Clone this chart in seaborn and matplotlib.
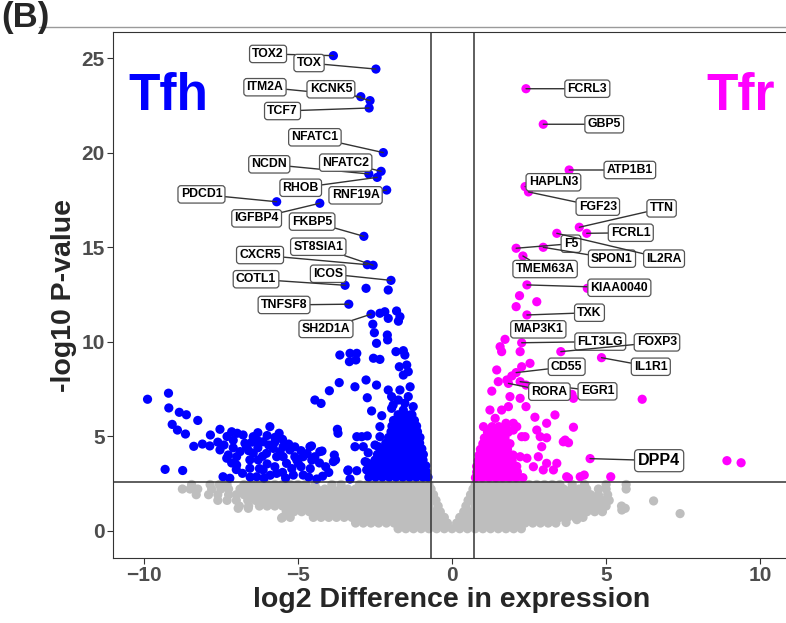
import numpy as np
import pandas as pd
import matplotlib
matplotlib.use("Agg")
import matplotlib.pyplot as plt
import seaborn as sns
from matplotlib.lines import Line2D

# ------------------------------------------------------------------
# values
# ------------------------------------------------------------------
# not-significant genes (gray), stored row by row: one -log10 p level, many log2 FC
gray_levels = [0.12, 0.42, 0.72, 1.02, 1.32, 1.62, 1.92, 2.22, 2.46]
gray_rows = [
    [-1.75, -1.5, -1.25, -1.0, -0.75, -0.5, -0.25, 0.0, 0.25, 0.5, 0.75, 1.0, 1.25, 1.5, 1.75, 2.0, 2.25],
    [-3.13, -2.88, -2.63, -2.38, -2.13, -1.88, -1.63, -1.38, -1.13, -0.88, -0.63, -0.38, -0.15, 0.15, 0.37,
     0.62, 0.87, 1.12, 1.37, 1.62, 1.87, 2.12, 2.37, 2.62, 2.87, 3.12, 3.37],
    [-5.5, -5.25, -4.5, -4.25, -4.0, -3.75, -3.5, -3.25, -3.0, -2.75, -2.5, -2.25, -2.0, -1.75, -1.5, -1.25,
     -1.0, -0.75, -0.5, -0.25, 0.25, 0.5, 0.75, 1.0, 1.25, 1.5, 1.75, 2.0, 2.25, 2.5, 2.75, 3.0, 3.25, 3.5,
     3.75, 4.0, 4.25],
    [-5.38, -5.13, -4.88, -4.63, -4.38, -4.13, -3.88, -3.63, -3.38, -3.13, -2.88, -2.63, -2.38, -2.13, -1.88,
     -1.63, -1.38, -1.13, -0.88, -0.63, -0.38, 0.38, 0.63, 0.88, 1.13, 1.38, 1.63, 1.88, 2.13, 2.38, 2.63,
     2.88, 3.13, 3.38, 3.63, 3.88, 4.13, 4.38, 4.63, 4.88],
    [-6.9, -6.6, -6.25, -6.0, -5.75, -5.5, -5.25, -5.0, -4.75, -4.5, -4.25, -4.0, -3.75, -3.5, -3.25, -3.0,
     -2.75, -2.5, -2.25, -2.0, -1.75, -1.5, -1.25, -1.0, -0.75, -0.45, 0.45, 0.75, 1.0, 1.25, 1.5, 1.75, 2.0,
     2.25, 2.5, 2.75, 3.0, 3.25, 3.5, 3.75, 4.0, 4.25, 4.5, 4.75, 5.0, 5.5],
    [-7.6, -7.3, -7.0, -6.63, -6.38, -6.13, -5.88, -5.63, -5.38, -5.13, -4.88, -4.63, -4.38, -4.13, -3.88,
     -3.63, -3.38, -3.13, -2.88, -2.63, -2.38, -2.13, -1.88, -1.63, -1.38, -1.13, -0.88, -0.62, -0.52, 0.52,
     0.62, 0.87, 1.12, 1.37, 1.62, 1.87, 2.12, 2.37, 2.62, 2.87, 3.12, 3.37, 3.62, 3.87, 4.12, 4.37, 4.62,
     4.87, 5.1],
    [-8.3, -7.9, -7.6, -7.25, -7.0, -6.75, -6.5, -6.25, -6.0, -5.75, -5.5, -5.25, -5.0, -4.75, -4.5, -4.25,
     -4.0, -3.75, -3.5, -3.25, -3.0, -2.75, -2.5, -2.25, -2.0, -1.75, -1.5, -1.25, -1.0, -0.75, -0.6, 0.6,
     0.75, 1.0, 1.25, 1.5, 1.75, 2.0, 2.25, 2.5, 2.75, 3.0, 3.25, 3.5, 3.75, 4.0, 4.25, 4.5, 4.75, 5.05],
    [-8.75, -8.5, -8.25, -7.8, -7.5, -7.25, -6.88, -6.63, -6.38, -6.13, -5.88, -5.63, -5.38, -5.13, -4.88,
     -4.63, -4.38, -4.13, -3.88, -3.63, -3.38, -3.13, -2.88, -2.63, -2.38, -2.13, -1.88, -1.63, -1.38, -1.13,
     -0.88, -0.68, 0.68, 0.87, 1.12, 1.37, 1.62, 1.87, 2.12, 2.37, 2.62, 2.87, 3.12, 3.37, 3.62, 3.87, 4.12,
     4.37, 4.75, 5.0, 5.65],
    [-8.45, -7.85, -7.55, -7.3, -6.75, -6.5, -6.25, -6.0, -5.75, -5.5, -5.25, -5.0, -4.75, -4.45, -3.9, -3.6,
     -3.0, -2.75, -2.5, -2.25, -2.0, -1.75, -1.5, -1.25, -1.0, -0.75, 0.75, 1.0, 1.25, 1.5, 1.75, 2.0, 2.25,
     2.5, 2.75, 3.0, 3.25, 3.5, 3.9, 4.3, 5.0, 5.65],
]
gray_extra_x = [-5.53, -6.94, -6.61, 5.51, 5.62, 6.54, 7.40, 4.05, 3.70]
gray_extra_y = [0.68, 1.20, 1.20, 1.11, 1.20, 1.59, 0.92, 0.60, 0.45]

# Tfh-up genes (blue): dense core near the cutoff, by rows
blue_levels = [2.85, 3.15, 3.45, 3.75, 4.05, 4.35, 4.65, 4.95, 5.25, 5.55, 5.85, 6.15]
blue_rows = [
    [-2.7, -2.48, -2.26, -2.04, -1.82, -1.6, -1.38, -1.16, -0.94, -0.78],
    [-2.6, -2.37, -2.15, -1.93, -1.71, -1.49, -1.27, -1.05, -0.84],
    [-2.55, -2.32, -2.1, -1.88, -1.66, -1.44, -1.22, -1.0, -0.85],
    [-2.5, -2.26, -2.04, -1.82, -1.6, -1.38, -1.16, -0.94],
    [-2.42, -2.2, -1.98, -1.76, -1.54, -1.32, -1.1, -0.93],
    [-2.3, -2.08, -1.86, -1.64, -1.42, -1.2, -0.98],
    [-2.15, -1.93, -1.71, -1.49, -1.27, -1.05],
    [-2.06, -1.84, -1.62, -1.4, -1.18, -1.04],
    [-1.98, -1.76, -1.54, -1.32, -1.12],
    [-1.95, -1.72, -1.5, -1.28, -1.15],
    [-1.9, -1.66, -1.44, -1.22],
    [-1.75, -1.52, -1.3],
]
# scattered blue genes
blue_x = [-9.88, -9.20, -9.19, -8.85, -8.62, -8.25, -9.08, -8.91, -8.65, -9.31, -8.74,
          -8.38, -8.10, -7.86, -7.84, -7.53, -7.15, -6.97, -6.78, -6.45, -6.30, -6.13, -5.91, -5.61,
          -7.53, -7.31, -7.26, -6.99, -6.88, -6.72, -6.67, -6.56, -6.45, -6.29, -6.99, -6.02, -5.80,
          -5.69, -5.58, -5.48, -5.48, -5.37, -5.26, -5.10, -5.04, -4.99, -4.83, -4.61, -4.45, -4.29,
          -6.56, -6.13, -7.43, -7.21, -6.34, -5.69, -5.15, -4.83, -4.39,
          -7.60, -7.40, -7.10, -6.60, -6.30, -6.15, -5.95, -5.75, -5.50, -5.30, -5.10, -4.90, -4.70,
          -4.55, -4.30, -4.10, -4.00, -4.60, -4.90, -5.20, -5.50, -5.75, -6.00, -6.25, -6.80, -6.55,
          -6.10, -5.90, -5.40, -4.65, -4.20, -7.15, -7.00, -6.30, -6.00, -5.75, -6.50, -7.30, -7.10,
          -4.45, -4.25, -3.72, -3.70, -3.09, -2.75, -3.15, -2.88, -2.72, -2.34, -2.39, -4.56, -4.22,
          -3.82, -3.78, -3.38, -3.09, -2.75, -2.77, -3.31,
          -3.64, -3.31, -3.09, -3.33, -3.12, -3.66, -3.98, -3.15, -2.79, -2.45, -2.75, -2.61, -2.28,
          -2.34, -2.18, -2.07, -1.80, -1.69, -1.74, -2.57, -2.52, -2.45, -2.10, -2.09, -2.55, -2.34,
          -1.82, -1.58, -1.71, -1.53, -1.42, -1.58, -1.36, -2.07, -1.96, -1.69, -1.42, -1.74, -1.26,
          -1.96, -1.58, -1.36, -1.47, -1.91, -1.53, -2.34,
          -2.79, -2.07, -3.85, -3.37, -2.93, -2.82, -2.66, -2.50]
blue_y = [6.97, 7.29, 6.51, 6.28, 6.15, 5.85, 5.64, 5.34, 5.13, 3.26, 3.20,
          4.48, 4.60, 4.50, 5.08, 5.38, 5.25, 5.17, 5.08, 4.99, 4.77, 4.72, 5.52, 5.17,
          4.29, 3.85, 4.02, 3.93, 4.20, 4.64, 4.46, 3.76, 4.11, 3.76, 3.49, 4.11, 4.37,
          3.93, 4.20, 4.46, 3.93, 3.58, 4.29, 3.93, 3.76, 3.58, 3.93, 4.46, 3.93, 4.20,
          3.32, 3.23, 2.87, 2.79, 2.87, 3.05, 2.96, 2.96, 2.75,
          4.70, 4.55, 4.40, 4.25, 4.40, 3.95, 4.55, 4.70, 4.85, 4.60, 4.45, 4.25, 4.10,
          3.75, 3.60, 3.40, 3.10, 3.30, 3.40, 3.30, 3.10, 3.40, 3.55, 3.30, 3.05, 2.85,
          2.80, 2.95, 2.80, 2.85, 2.90, 3.60, 3.25, 5.20, 5.05, 4.95, 4.70, 5.00, 4.80,
          6.93, 6.75, 5.38, 5.17, 4.99, 5.03, 4.46, 4.46, 4.14, 4.99, 4.46, 4.50, 4.23,
          4.02, 3.76, 3.19, 3.19, 3.61, 3.23, 2.75,
          9.31, 9.40, 9.40, 8.96, 9.05, 7.85, 7.42, 7.63, 7.99, 7.72, 7.05, 6.35, 6.10,
          11.52, 11.60, 11.25, 11.64, 11.34, 11.10, 10.94, 10.49, 9.93, 10.37, 10.11, 9.14, 9.08,
          9.49, 9.54, 8.69, 9.31, 8.43, 8.25, 7.63, 7.46, 7.11, 7.46, 7.11, 6.93, 6.58,
          6.49, 6.40, 6.14, 8.78, 6.67, 6.76, 5.52,
          12.84, 12.75, 3.67, 3.23, 4.99, 3.67, 3.49, 4.55]

# labelled Tfh genes
tfh_genes = ["TOX2", "TOX", "ITM2A", "KCNK5", "TCF7", "NFATC1", "NCDN", "NFATC2", "RHOB", "RNF19A",
             "PDCD1", "IGFBP4", "FKBP5", "ST8SIA1", "CXCR5", "ICOS", "COTL1", "TNFSF8", "SH2D1A"]
tfh_x = [-3.85, -2.47, -2.96, -2.66, -2.69, -2.23, -2.70, -2.30, -2.43, -2.12,
         -5.69, -4.29, -2.86, -2.56, -2.75, -1.98, -3.47, -3.35, -2.63]
tfh_y = [25.15, 24.44, 22.98, 22.77, 22.38, 20.02, 18.89, 19.03, 18.71, 18.04,
         17.42, 17.34, 15.59, 14.06, 14.09, 13.26, 13.00, 12.00, 11.47]

# Tfr-up genes (magenta): dense core, by rows
mag_levels = [2.82, 3.12, 3.42, 3.72, 4.02, 4.32, 4.62, 4.92, 5.22, 5.52]
mag_rows = [
    [0.76, 0.98, 1.2, 1.42, 1.64, 1.86, 2.08, 2.3],
    [0.8, 1.02, 1.24, 1.46, 1.68, 1.9, 2.12],
    [0.8, 1.02, 1.24, 1.46, 1.68, 1.9, 2.1],
    [0.85, 1.06, 1.28, 1.5, 1.72, 1.95],
    [0.88, 1.1, 1.32, 1.54, 1.76, 1.98],
    [0.92, 1.14, 1.36, 1.58, 1.8],
    [1.0, 1.22, 1.44, 1.66, 1.88],
    [1.05, 1.28, 1.5, 1.72],
    [1.15, 1.38, 1.6, 1.82],
    [1.3, 1.52, 1.75],
]
mag_x = [2.08, 2.75, 2.19, 1.72, 1.56, 1.61, 2.21, 1.45, 1.94, 2.53, 1.50, 1.78, 2.40, 1.29, 1.88,
         2.21, 2.40, 1.23, 1.40, 1.83, 1.61, 2.69, 3.34, 3.07, 3.94, 3.61, 3.78, 2.86, 2.75, 3.07,
         1.99, 2.26, 2.10, 1.02, 1.18, 2.43, 2.21, 2.64, 2.91, 2.80, 3.07, 3.40, 2.96, 3.29, 3.78,
         3.72, 4.16, 4.29, 5.15, 3.94, 3.89, 6.17, 8.92, 9.38, 3.67, 2.37, 2.26, 1.75, 1.99, 4.39]
mag_y = [11.87, 12.13, 12.45, 10.14, 9.75, 9.49, 9.49, 8.52, 8.20, 8.87, 7.90, 7.99, 7.72, 7.40, 7.11,
         7.02, 6.58, 6.40, 5.96, 6.58, 6.40, 6.02, 6.14, 5.70, 5.49, 4.72, 4.67, 4.99, 5.34, 4.93,
         5.70, 4.99, 5.52, 5.52, 5.34, 3.85, 3.93, 3.40, 4.46, 3.93, 3.58, 3.58, 3.23, 3.23, 2.80,
         2.87, 2.87, 2.96, 2.87, 7.02, 7.23, 6.97, 3.72, 3.61, 4.81, 4.99, 8.69, 5.70, 5.34, 12.84]

# labelled Tfr genes
tfr_genes = ["FCRL3", "GBP5", "ATP1B1", "HAPLN3", "FGF23", "TTN", "FCRL1", "F5", "SPON1", "IL2RA",
             "TMEM63A", "KIAA0040", "TXK", "MAP3K1", "EGR1", "RORA", "FLT3LG", "FOXP3", "IL1R1", "CD55",
             "DPP4"]
tfr_x = [2.40, 2.96, 3.80, 2.37, 2.48, 4.13, 4.37, 2.08, 2.96, 3.40,
         2.30, 2.43, 2.43, 2.45, 2.21, 1.83, 2.26, 3.53, 4.85, 2.08, 4.48]
tfr_y = [23.40, 21.52, 19.10, 18.22, 17.94, 16.07, 15.75, 14.96, 15.01, 15.75,
         14.55, 13.02, 11.43, 10.55, 7.90, 7.81, 9.96, 9.49, 9.17, 8.38, 3.83]

# ------------------------------------------------------------------
# layout only: where the repelled labels sit
# ------------------------------------------------------------------
label_pos = {
    "TOX2": (-5.97, 25.24), "TOX": (-4.64, 24.76), "ITM2A": (-6.07, 23.48), "KCNK5": (-3.93, 23.37),
    "TCF7": (-5.50, 22.22), "NFATC1": (-4.45, 20.83), "NCDN": (-5.93, 19.40), "NFATC2": (-3.45, 19.49),
    "RHOB": (-4.91, 18.16), "RNF19A": (-3.13, 17.76), "PDCD1": (-8.13, 17.81), "IGFBP4": (-6.34, 16.54),
    "FKBP5": (-4.54, 16.37), "ST8SIA1": (-4.34, 15.04), "CXCR5": (-6.23, 14.60), "ICOS": (-4.02, 13.61),
    "COTL1": (-6.36, 13.32), "TNFSF8": (-5.45, 11.96), "SH2D1A": (-4.09, 10.69),
    "FCRL3": (4.39, 23.40), "GBP5": (4.94, 21.52), "ATP1B1": (5.77, 19.10), "HAPLN3": (3.29, 18.45),
    "FGF23": (4.73, 17.16), "TTN": (6.80, 17.07), "FCRL1": (5.80, 15.78), "F5": (3.86, 15.20),
    "SPON1": (5.19, 14.41), "IL2RA": (6.88, 14.41), "TMEM63A": (3.02, 13.86), "KIAA0040": (5.43, 12.87),
    "TXK": (4.46, 11.55), "MAP3K1": (2.80, 10.67), "FLT3LG": (4.81, 10.02), "FOXP3": (6.65, 9.98),
    "IL1R1": (6.45, 8.69), "CD55": (3.72, 8.69), "EGR1": (4.72, 7.39), "RORA": (3.16, 7.37),
    "DPP4": (6.72, 3.72),
}
no_segment = {"MAP3K1"}

# ------------------------------------------------------------------
# build table
# ------------------------------------------------------------------
parts = []
for lvl, xs in zip(gray_levels, gray_rows):
    parts.append(pd.DataFrame({"x": xs, "y": lvl, "grp": "ns"}))
parts.append(pd.DataFrame({"x": gray_extra_x, "y": gray_extra_y, "grp": "ns"}))
for lvl, xs in zip(blue_levels, blue_rows):
    parts.append(pd.DataFrame({"x": xs, "y": lvl, "grp": "Tfh"}))
parts.append(pd.DataFrame({"x": blue_x, "y": blue_y, "grp": "Tfh"}))
parts.append(pd.DataFrame({"x": tfh_x, "y": tfh_y, "grp": "Tfh"}))
for lvl, xs in zip(mag_levels, mag_rows):
    parts.append(pd.DataFrame({"x": xs, "y": lvl, "grp": "Tfr"}))
parts.append(pd.DataFrame({"x": mag_x, "y": mag_y, "grp": "Tfr"}))
parts.append(pd.DataFrame({"x": tfr_x, "y": tfr_y, "grp": "Tfr"}))
df = pd.concat(parts, ignore_index=True)

# ------------------------------------------------------------------
# plot
# ------------------------------------------------------------------
sns.set_theme(style="white")
plt.rcParams['font.family'] = ['Liberation Sans', 'DejaVu Sans']

fig = plt.figure(figsize=(7.86, 6.23), dpi=100)
ax = fig.add_axes([0.1438, 0.1043, 0.8626, 0.8443])

palette = {"ns": "#BEBEBE", "Tfh": "#0000FF", "Tfr": "#FF00FF"}
sns.scatterplot(data=df, x="x", y="y", hue="grp", palette=palette, s=44,
                linewidth=0, legend=False, ax=ax, zorder=2)

# cut-off lines
ax.axhline(2.6, color="#333333", lw=1.1, zorder=3)
ax.axvline(-0.68, color="#333333", lw=1.1, zorder=3)
ax.axvline(0.70, color="#333333", lw=1.1, zorder=3)

ax.set_xlim(-11, 11)
ax.set_ylim(-1.43, 26.4)
ax.set_xticks([-10, -5, 0, 5, 10])
ax.set_yticks([0, 5, 10, 15, 20, 25])
ax.tick_params(bottom=True, left=True, length=4, width=0.8, color="#333333",
               labelcolor="#4D4D4D", labelsize=15, pad=2)
for lab in ax.get_xticklabels() + ax.get_yticklabels():
    lab.set_fontweight("bold")
for sp in ax.spines.values():
    sp.set_color("#333333")
    sp.set_linewidth(0.8)

ax.set_xlabel("log2 Difference in expression", fontsize=20.5, fontweight="bold", labelpad=1)
ax.set_ylabel("-log10 P-value", fontsize=20.5, fontweight="bold", labelpad=3)

ax.text(-9.19, 23.0, "Tfh", color="#0000FF", fontsize=37, fontweight="bold", ha="center", va="center")
ax.text(9.35, 23.0, "Tfr", color="#FF00FF", fontsize=37, fontweight="bold", ha="center", va="center")

# gene labels
all_genes = tfh_genes + tfr_genes
all_x = tfh_x + tfr_x
all_y = tfh_y + tfr_y
for i, (g, gx, gy) in enumerate(zip(all_genes, all_x, all_y)):
    fs = 11.5 if g == "DPP4" else 8.8
    arrow = None
    if g not in no_segment:
        arrow = dict(arrowstyle="-", color="#333333", lw=1.0, shrinkA=0, shrinkB=0)
    ax.annotate(g, xy=(gx, gy), xytext=label_pos[g], ha="center", va="center",
                fontsize=fs, fontweight="bold", color="black",
                bbox=dict(boxstyle="round,pad=0.22,rounding_size=0.25", fc="white", ec="#555555", lw=0.9),
                arrowprops=arrow, zorder=5 + i)

fig.text(0.002, 0.999, "(B)", fontsize=25, fontweight="bold", ha="left", va="top")
fig.add_artist(Line2D([0.05, 1.0], [0.9567, 0.9567], color="#9A9A9A", lw=1.0))

fig.savefig("out.png", dpi=100)
